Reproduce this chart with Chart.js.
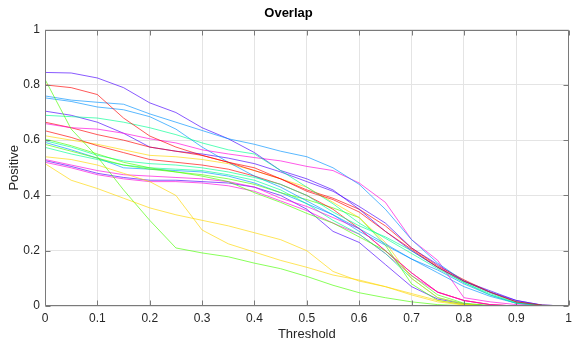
<!DOCTYPE html>
<html><head><meta charset="utf-8">
<script src="https://cdn.jsdelivr.net/npm/chart.js@4"></script>
<style>html,body{margin:0;padding:0;background:#fff;}#wrap{width:577px;height:342px;}</style>
</head><body><div id="wrap"><canvas id="c" width="577" height="342"></canvas></div>
<script>
const thresholds = [0,0.05,0.1,0.15,0.2,0.25,0.3,0.35,0.4,0.45,0.5,0.55,0.6,0.65,0.7,0.75,0.8,0.85,0.9,0.95,1];
const xTicks = [0,0.1,0.2,0.3,0.4,0.5,0.6,0.7,0.8,0.9,1];
const yTicks = [0,0.2,0.4,0.6,0.8,1];

const red1    = [0.80,0.79,0.765,0.68,0.615,0.575,0.545,0.52,0.50,0.46,0.415,0.385,0.34,0.27,0.205,0.14,0.09,0.05,0.015,0.003,0];
const red2    = [0.665,0.645,0.62,0.60,0.575,0.56,0.545,0.52,0.49,0.46,0.42,0.39,0.35,0.29,0.21,0.145,0.095,0.05,0.015,0.002,0];
const red3    = [0.634,0.61,0.58,0.555,0.53,0.52,0.51,0.495,0.47,0.44,0.40,0.35,0.28,0.20,0.12,0.05,0.02,0.005,0,0,0];
const yellow1 = [0.515,0.455,0.425,0.39,0.355,0.33,0.31,0.29,0.265,0.24,0.20,0.125,0.09,0.07,0.045,0.02,0.005,0,0,0,0];
const yellow2 = [0.54,0.53,0.51,0.48,0.45,0.40,0.275,0.225,0.195,0.165,0.14,0.112,0.094,0.07,0.04,0.015,0.003,0,0,0,0];
const yellow3 = [0.616,0.60,0.585,0.565,0.545,0.54,0.53,0.515,0.49,0.46,0.43,0.375,0.32,0.23,0.10,0.03,0.008,0,0,0,0];
const green1  = [0.82,0.64,0.54,0.42,0.31,0.21,0.192,0.178,0.155,0.135,0.107,0.075,0.048,0.03,0.015,0.005,0.001,0,0,0,0];
const green2  = [0.604,0.58,0.55,0.52,0.50,0.485,0.47,0.45,0.41,0.375,0.335,0.30,0.25,0.20,0.11,0.04,0.01,0.002,0,0,0];
const green3  = [0.585,0.56,0.535,0.51,0.495,0.485,0.475,0.46,0.44,0.41,0.385,0.355,0.32,0.22,0.08,0.02,0.005,0,0,0,0];
const cyan1   = [0.69,0.685,0.68,0.665,0.645,0.62,0.59,0.565,0.55,0.49,0.43,0.37,0.30,0.245,0.19,0.135,0.085,0.045,0.012,0.002,0];
const cyan2   = [0.598,0.575,0.545,0.525,0.515,0.51,0.50,0.485,0.465,0.44,0.40,0.34,0.29,0.25,0.20,0.14,0.085,0.04,0.01,0.001,0];
const cyan3   = [0.574,0.55,0.53,0.51,0.50,0.495,0.49,0.475,0.455,0.42,0.37,0.31,0.26,0.19,0.10,0.03,0.008,0,0,0,0];
const blue1   = [0.76,0.745,0.737,0.73,0.695,0.665,0.635,0.605,0.585,0.56,0.54,0.50,0.44,0.35,0.24,0.155,0.09,0.05,0.015,0.003,0];
const blue2   = [0.753,0.74,0.72,0.71,0.685,0.64,0.575,0.52,0.47,0.43,0.38,0.33,0.28,0.225,0.17,0.12,0.07,0.035,0.01,0.001,0];
const blue3   = [0.592,0.565,0.535,0.50,0.495,0.49,0.485,0.47,0.445,0.41,0.37,0.33,0.27,0.22,0.17,0.13,0.08,0.04,0.01,0.001,0];
const purple1 = [0.845,0.843,0.825,0.79,0.735,0.70,0.645,0.605,0.555,0.49,0.46,0.42,0.35,0.27,0.20,0.14,0.09,0.05,0.02,0.003,0];
const purple2 = [0.705,0.69,0.665,0.625,0.575,0.56,0.55,0.535,0.515,0.485,0.45,0.415,0.36,0.30,0.21,0.15,0.09,0.055,0.02,0.003,0];
const purple3 = [0.526,0.505,0.48,0.465,0.455,0.455,0.45,0.445,0.43,0.40,0.35,0.27,0.23,0.15,0.07,0.025,0.008,0,0,0,0];
const magenta1= [0.66,0.645,0.64,0.625,0.605,0.59,0.565,0.55,0.537,0.525,0.505,0.49,0.445,0.375,0.24,0.165,0.03,0.015,0.005,0,0];
const magenta2= [0.53,0.51,0.49,0.475,0.47,0.465,0.46,0.45,0.43,0.39,0.36,0.32,0.28,0.20,0.12,0.05,0.02,0.005,0,0,0];
const magenta3= [0.52,0.50,0.475,0.46,0.45,0.45,0.445,0.435,0.415,0.38,0.345,0.30,0.26,0.19,0.11,0.05,0.02,0.005,0,0,0];

const A = 0.65;
const RED = `rgba(255,0,0,${A})`, YEL = `rgba(255,215,0,${A})`, GRN = `rgba(73,255,0,${A})`,
      CYN = `rgba(0,255,146,${A})`, BLU = `rgba(0,146,255,${A})`, PUR = `rgba(73,0,255,${A})`, MAG = `rgba(255,0,219,${A})`;

const series = [
  [red1,RED],[yellow1,YEL],[green1,GRN],[cyan1,CYN],[blue1,BLU],[purple1,PUR],[magenta1,MAG],
  [red2,RED],[yellow2,YEL],[green2,GRN],[cyan2,CYN],[blue2,BLU],[purple2,PUR],[magenta2,MAG],
  [red3,RED],[yellow3,YEL],[green3,GRN],[cyan3,CYN],[blue3,BLU],[purple3,PUR],[magenta3,MAG]
];

const FONT = "'Liberation Sans', Arial, Helvetica, sans-serif";
const AXC = '#7a7a7a';

const boxPlugin = {
  id: 'box',
  afterDatasetsDraw(chart) {
    const {ctx, chartArea: a, scales: {x, y}} = chart;
    const L = Math.round(a.left) + 0.5, R = Math.round(a.right) - 0.5;
    const T = Math.round(a.top) + 0.5, B = Math.round(a.bottom) - 0.5;
    ctx.save();
    ctx.strokeStyle = AXC; ctx.lineWidth = 1;
    ctx.beginPath();
    ctx.rect(L, T, R - L, B - T);
    const tl = 5;
    xTicks.forEach(v => {
      const px = Math.round(x.getPixelForValue(v)) + 0.5;
      ctx.moveTo(px, B); ctx.lineTo(px, B - tl);
      ctx.moveTo(px, T); ctx.lineTo(px, T + tl);
    });
    yTicks.forEach(v => {
      const py = Math.round(y.getPixelForValue(v)) + 0.5;
      ctx.moveTo(L, py); ctx.lineTo(L + tl, py);
      ctx.moveTo(R, py); ctx.lineTo(R - tl, py);
    });
    ctx.stroke();
    ctx.restore();
  }
};

new Chart(document.getElementById('c'), {
  type: 'line',
  data: {
    datasets: series.map(([vals, col], i) => ({
      label: 'S' + (i + 1),
      data: thresholds.map((t, j) => ({x: t, y: vals[j]})),
      borderColor: col,
      borderWidth: 1,
      pointRadius: 0,
      fill: false,
      tension: 0
    }))
  },
  options: {
    responsive: false,
    animation: false,
    devicePixelRatio: 1,
    layout: {padding: {left: 0, right: 0, top: 0, bottom: 0}},
    plugins: {
      legend: {display: false},
      tooltip: {enabled: false},
      title: {
        display: true, text: 'Overlap', color: '#000',
        font: {family: FONT, size: 13, weight: 'bold'},
        padding: {top: 6, bottom: 8}
      }
    },
    scales: {
      x: {
        type: 'linear', min: 0, max: 1,
        afterBuildTicks(s) { s.ticks = xTicks.map(v => ({value: v})); },
        afterFit(s) { s.height = 36; },
        grid: {color: '#e4e4e4', drawTicks: false},
        border: {display: false},
        ticks: {color: '#262626', font: {family: FONT, size: 12}, padding: 5, maxRotation: 0,
                callback: v => String(v)},
        title: {display: true, text: 'Threshold', color: '#262626',
                font: {family: FONT, size: 13}, padding: {top: 0, bottom: 0}}
      },
      y: {
        type: 'linear', min: 0, max: 1,
        afterBuildTicks(s) { s.ticks = yTicks.map(v => ({value: v})); },
        afterFit(s) { s.width = 45; },
        grid: {color: '#e4e4e4', drawTicks: false},
        border: {display: false},
        ticks: {color: '#262626', font: {family: FONT, size: 12}, padding: 5,
                callback: v => String(v)},
        title: {display: true, text: 'Positive', color: '#262626',
                font: {family: FONT, size: 13}, padding: {top: 7, bottom: 0}}
      }
    }
  },
  plugins: [boxPlugin]
});
</script>
</body></html>
